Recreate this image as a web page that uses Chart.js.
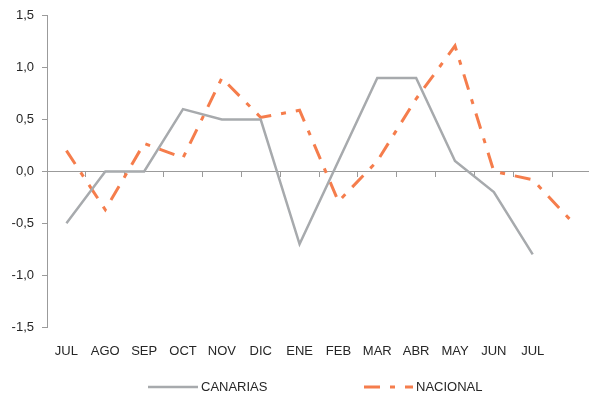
<!DOCTYPE html>
<html>
<head>
<meta charset="utf-8">
<script src="https://cdn.jsdelivr.net/npm/chart.js@4"></script>
<style>
  html, body { margin: 0; padding: 0; background: #fff; overflow: hidden; }
  #wrap { width: 592px; height: 401px; }
</style>
</head>
<body>
<div id="wrap"><canvas id="c" width="592" height="401"></canvas></div>
<script>
const categories = ['JUL','AGO','SEP','OCT','NOV','DIC','ENE','FEB','MAR','ABR','MAY','JUN','JUL',''];
const canarias = [-0.5, 0.0, 0.0, 0.6, 0.5, 0.5, -0.7, 0.1, 0.9, 0.9, 0.1, -0.2, -0.8, null];
const nacional = [0.2, -0.37, 0.27, 0.13, 0.9, 0.52, 0.59, -0.29, 0.1, 0.7, 1.21, 0.0, -0.08, -0.48];
const yTicks = [-1.5, -1.0, -0.5, 0.0, 0.5, 1.0, 1.5];

const GRAY = '#a7aaad';
const ORANGE = '#f57d4c';
const AXIS = '#9b9b9b';
const TEXT = '#262626';
const FONT = { family: '"Liberation Sans", Arial, sans-serif', size: 13 };

const legendPlugin = {
  id: 'customLegend',
  afterDraw(chart) {
    const ctx = chart.ctx;
    const items = [
      { ds: chart.data.datasets[0], x0: 148, x1: 198, tx: 201 },
      { ds: chart.data.datasets[1], x0: 364, x1: 413, tx: 416 }
    ];
    const y = 387;
    ctx.save();
    items.forEach(it => {
      ctx.beginPath();
      ctx.setLineDash(it.ds.borderDash || []);
      ctx.lineWidth = it.ds.borderWidth;
      ctx.strokeStyle = it.ds.borderColor;
      ctx.lineCap = 'butt';
      ctx.moveTo(it.x0, y);
      ctx.lineTo(it.x1, y);
      ctx.stroke();
      ctx.setLineDash([]);
      ctx.fillStyle = TEXT;
      ctx.font = FONT.size + 'px ' + FONT.family;
      ctx.textBaseline = 'middle';
      ctx.textAlign = 'left';
      ctx.fillText(it.ds.label, it.tx, y);
    });
    ctx.restore();
  }
};

new Chart(document.getElementById('c'), {
  type: 'line',
  data: {
    labels: categories,
    datasets: [
      { label: 'CANARIAS', data: canarias, borderColor: GRAY, backgroundColor: GRAY,
        borderWidth: 2.5, pointRadius: 0, tension: 0, xAxisID: 'x', yAxisID: 'y' },
      { label: 'NACIONAL', data: nacional, borderColor: ORANGE, backgroundColor: ORANGE,
        borderWidth: 3, borderDash: [16, 10, 5, 10], pointRadius: 0, tension: 0, xAxisID: 'x', yAxisID: 'y' }
    ]
  },
  options: {
    responsive: false,
    animation: false,
    events: [],
    layout: { padding: { top: 12, right: 1, bottom: 34, left: 0 } },
    plugins: { legend: { display: false }, tooltip: { enabled: false } },
    scales: {
      x: {
        type: 'category',
        position: { y: 0 },
        offset: true,
        grid: { offset: true, drawOnChartArea: false, drawTicks: true, tickLength: 5, color: AXIS, lineWidth: 1 },
        border: { display: true, color: AXIS, width: 1 },
        ticks: { display: false }
      },
      x2: {
        type: 'category',
        labels: categories,
        position: 'bottom',
        offset: true,
        grid: { display: false, drawTicks: false },
        border: { display: false },
        ticks: { color: TEXT, font: FONT, padding: 17, autoSkip: false, maxRotation: 0 },
        afterFit(s) { s.height = 40; }
      },
      y: {
        min: -1.5, max: 1.5,
        afterBuildTicks(s) { s.ticks = yTicks.map(v => ({ value: v })); },
        grid: { drawOnChartArea: false, drawTicks: true, tickLength: 5, color: AXIS, lineWidth: 1 },
        border: { display: true, color: AXIS, width: 1 },
        ticks: { color: TEXT, font: FONT, padding: 8,
          callback: v => v.toFixed(1).replace('.', ',') },
        afterFit(s) { s.width = 47; }
      }
    }
  },
  plugins: [legendPlugin]
});
</script>
</body>
</html>
